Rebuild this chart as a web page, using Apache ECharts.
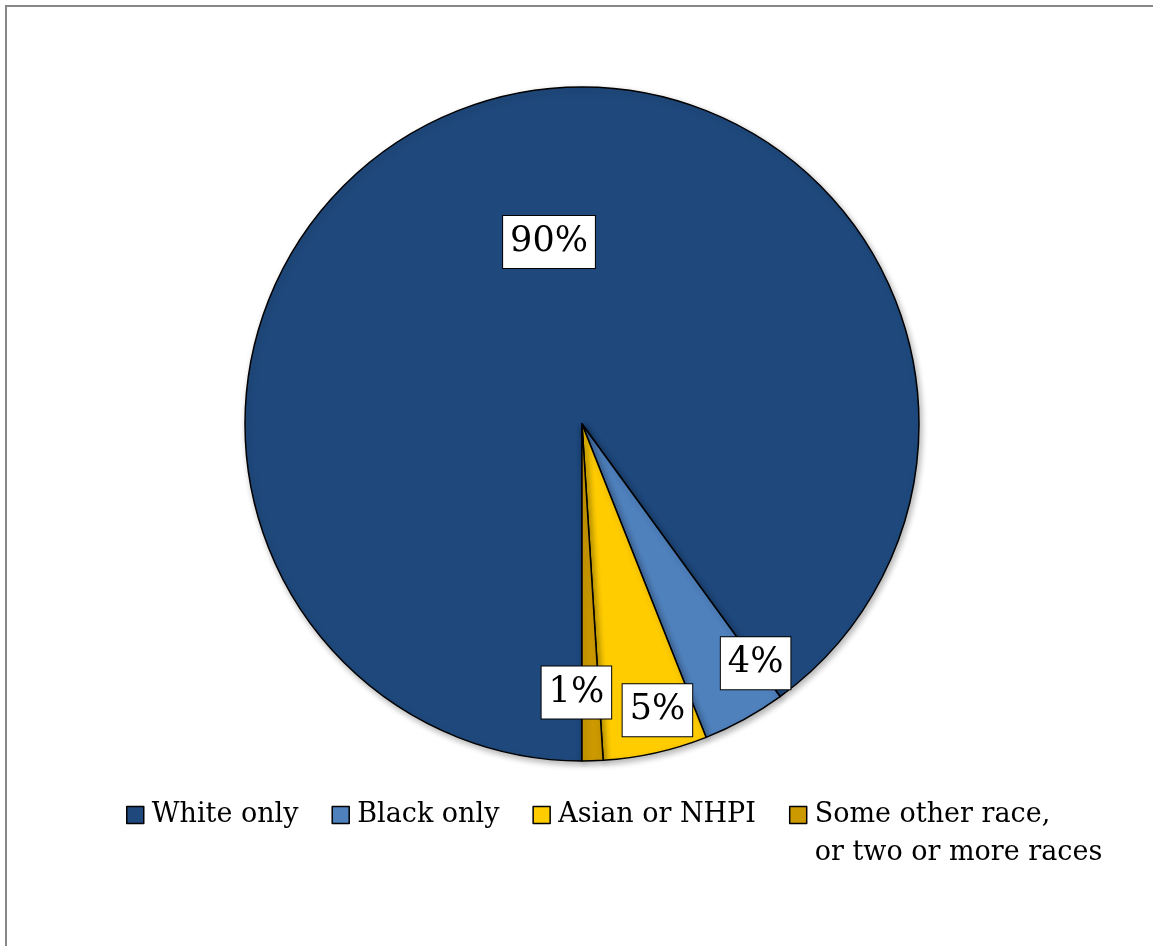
<!DOCTYPE html>
<html><head><meta charset="utf-8">
<script src="https://cdn.jsdelivr.net/npm/echarts@6/dist/echarts.min.js"></script>
<style>html,body{margin:0;padding:0;background:#fff}#c{width:1153px;height:946px}</style>
</head><body><div id="c"></div>
<script>
// ---- data ----
const categories = ['White only', 'Black only', 'Asian or NHPI', 'Some other race,\nor two or more races'];
const shares = [90.0, 4.0, 5.0, 1.0];

// ---- styles ----
const palette = ['#1F497D', '#4F81BD', '#FFCC00', '#CC9900'];
const labelOffsets = [[20, -19], [91, 89], [38, 119], [-11, 97]];
const FONT = 'DejaVu Serif';
const LEGEND_LH = 38;

const chart = echarts.init(document.getElementById('c'), null, {renderer: 'canvas'});

const pieData = categories.map((name, i) => ({
  name: name,
  value: shares[i],
  itemStyle: {color: palette[i]},
  label: {offset: labelOffsets[i]}
}));

chart.setOption({
  animation: false,
  graphic: [{
    type: 'rect', silent: true, z: -1,
    shape: {x: 6, y: 6, width: 1170, height: 960},
    style: {fill: 'none', stroke: '#888888', lineWidth: 2}
  }],
  legend: {
    data: categories,
    left: 121,
    top: 753,
    orient: 'horizontal',
    itemWidth: 17,
    itemHeight: 17,
    itemGap: 33,
    icon: 'rect',
    selectedMode: false,
    // multi-line entry: a leading blank line keeps its first line level with the marker
    formatter: (name) => name.indexOf('\n') >= 0 ? ' \n' + name : name,
    itemStyle: {borderColor: '#000', borderWidth: 1.5},
    textStyle: {fontFamily: FONT, fontSize: 27, color: '#000', lineHeight: LEGEND_LH, padding: [0, 0, 0, 3]}
  },
  series: [{
    type: 'pie',
    center: [582, 424],
    radius: 337,
    startAngle: 270,
    clockwise: true,
    avoidLabelOverlap: false,
    emphasis: {disabled: true},
    data: pieData,
    itemStyle: {
      borderColor: '#000', borderWidth: 1.5,
      shadowBlur: 6, shadowOffsetX: 2, shadowOffsetY: 3, shadowColor: 'rgba(0,0,0,0.3)'
    },
    labelLine: {show: false},
    label: {
      show: true,
      position: 'inside',
      formatter: (p) => Math.round(p.percent) + '%',
      fontFamily: FONT,
      fontSize: 35,
      lineHeight: 34,
      color: '#000',
      backgroundColor: '#fff',
      borderColor: '#000',
      borderWidth: 1,
      padding: [9, 7, 9, 7]
    }
  }]
});
</script>
</body></html>
